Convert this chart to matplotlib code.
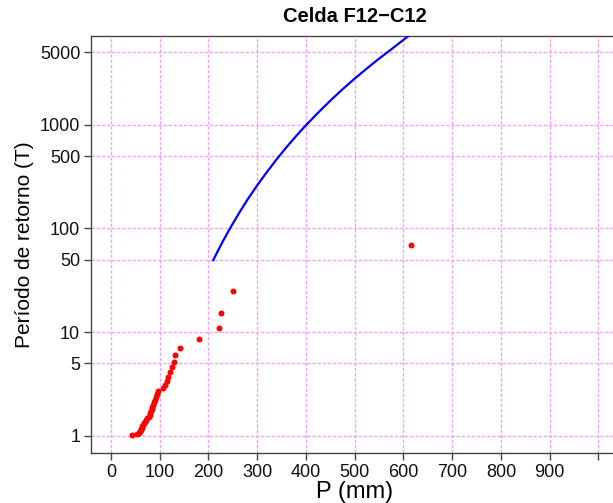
import matplotlib
matplotlib.use("Agg")
import matplotlib.pyplot as plt
from matplotlib.ticker import FixedLocator, NullLocator, FixedFormatter

plt.rcParams['font.family'] = ['Liberation Sans', 'DejaVu Sans']

# observed precipitation (mm) and return period (T) of each point
obs_p = [42.8, 53.1, 58.5, 59.9, 61.3, 62.0, 63.3, 64.7, 66.1, 67.4,
         69.5, 72.2, 74.9, 77.7, 79.7, 81.1, 82.5, 83.8, 85.2, 86.6,
         87.9, 90.0, 92.0, 94.1, 97.5, 107.7, 111.0, 114.7, 118.0, 121.0,
         125.0, 130.0, 131.0, 142.6, 180.3, 222.6, 226.0, 250.0, 615.0]
obs_t = [1.01, 1.04, 1.07, 1.10, 1.13, 1.17, 1.20, 1.24, 1.28, 1.32,
         1.37, 1.42, 1.47, 1.53, 1.59, 1.66, 1.73, 1.81, 1.90, 2.00,
         2.11, 2.23, 2.36, 2.51, 2.69, 2.89, 3.11, 3.38, 3.70, 4.09,
         4.57, 5.17, 5.96, 7.05, 8.58, 11.0, 15.3, 25.1, 70.0]

# fitted curve
fit_p = [210, 220, 230, 240, 250, 265, 280, 300, 320, 340, 360, 380,
         400, 425, 450, 475, 500, 525, 550, 575, 600, 610, 620]
fit_t = [49.4, 61.4, 75.5, 92.0, 111, 146, 189, 260, 350, 465, 606, 780,
         990, 1310, 1710, 2200, 2790, 3500, 4350, 5350, 6600, 7200, 7800]

x_ticks = [0, 100, 200, 300, 400, 500, 600, 700, 800, 900, 1000]
x_labels = ['0', '100', '200', '300', '400', '500', '600', '700', '800', '900', '']
y_ticks = [1, 5, 10, 50, 100, 500, 1000, 5000]
y_labels = ['1', '5', '10', '50', '100', '500', '1000', '5000']

fig = plt.figure(figsize=(6.13, 5.03), dpi=100)
ax = fig.add_axes([0.149, 0.0994, 0.859, 0.829])

grid_col = '#F2A2F2'
for xt in x_ticks:
    ax.axvline(xt, color=grid_col, lw=1, ls=(0, (2.4, 1.3)), zorder=1)
for yt in y_ticks:
    ax.axhline(yt, color=grid_col, lw=1, ls=(0, (2.4, 1.3)), zorder=1)

ax.plot(fit_p, fit_t, color='#0000FF', lw=1.6, zorder=3)
ax.plot(obs_p, obs_t, 'o', color='#FF0000', ms=4.3, mec='none', zorder=4)

ax.set_yscale('log')
ax.set_xlim(-40, 1040)
ax.set_ylim(0.681, 7200)

ax.xaxis.set_major_locator(FixedLocator(x_ticks))
ax.xaxis.set_major_formatter(FixedFormatter(x_labels))
ax.yaxis.set_major_locator(FixedLocator(y_ticks))
ax.yaxis.set_major_formatter(FixedFormatter(y_labels))
ax.xaxis.set_minor_locator(NullLocator())
ax.yaxis.set_minor_locator(NullLocator())

ax.tick_params(axis='both', labelsize=13, length=5, width=1, color='#444444',
               pad=3, labelcolor='#111111')
for s in ax.spines.values():
    s.set_color('#444444')
    s.set_linewidth(1)

ax.set_xlabel('P (mm)', fontsize=17, labelpad=0)
ax.set_ylabel('Período de retorno (T)', fontsize=15, labelpad=4)
ax.set_title('Celda F12\u2212C12', fontsize=14.5, fontweight='bold', pad=10)

fig.savefig('out.png', dpi=100)
